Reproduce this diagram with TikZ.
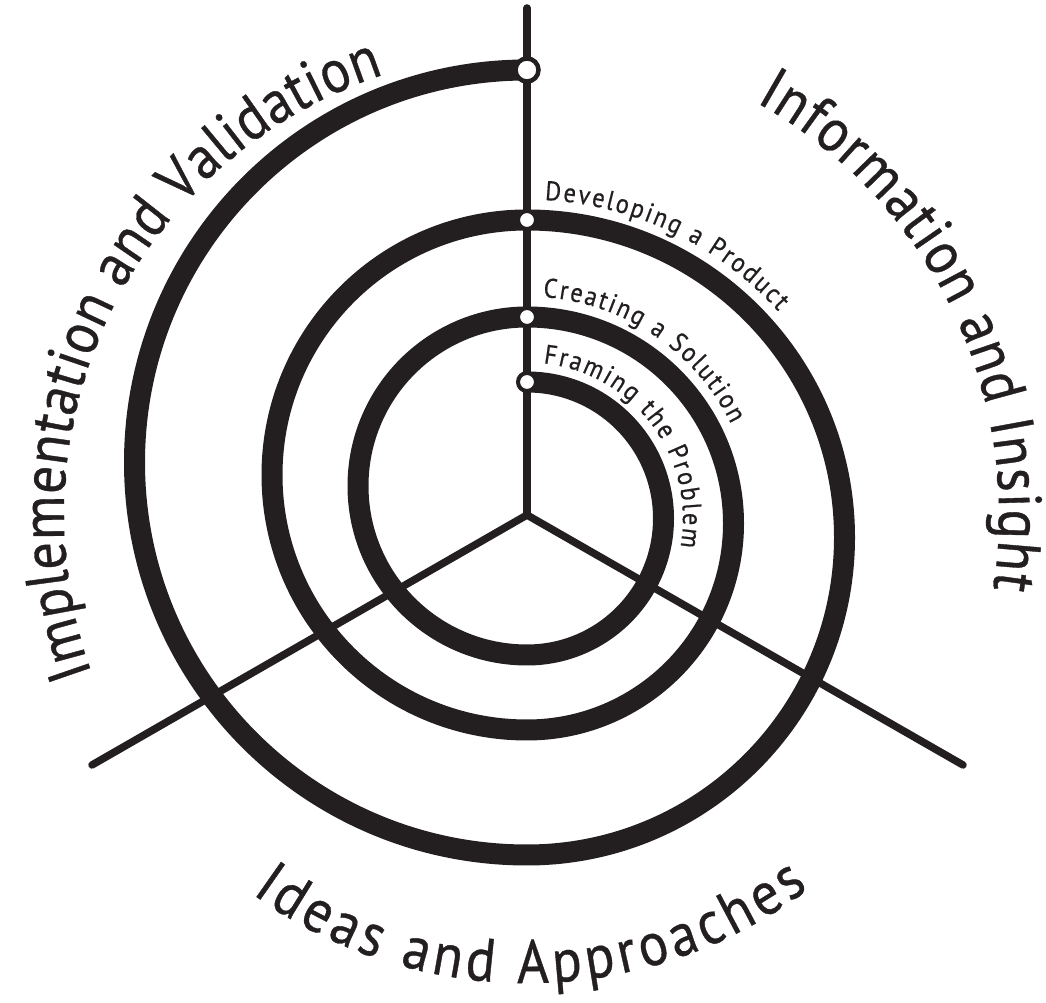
\documentclass[tikz,border=0pt]{standalone}
\usepackage{fontspec}
\setmainfont{PT Sans}[FakeBold=0.6,FakeStretch=0.9]
\usetikzlibrary{decorations.text}
\definecolor{ink}{HTML}{231F20}
\begin{document}
\begin{tikzpicture}[x=1pt,y=1pt,
  spoke/.style={line width=7.5pt, line cap=round, draw=ink},
  spiral/.style={line width=21pt, draw=ink},
  marker/.style={circle, draw=ink, fill=white, line width=4pt, minimum size=18pt, inner sep=0pt},
  bigmarker/.style={marker, minimum size=23pt, line width=4.5pt},
  bigtext/.style={decorate, decoration={text along path, text align={fit to path}, text color=ink, text={|\fontsize{61}{64}\selectfont|#1}}},
  smalltext/.style={decorate, decoration={text along path, text align={fit to path}, text color=ink, text={|\fontsize{27}{30}\selectfont|#1}}}
]
\useasboundingbox (0,0) rectangle (1046,1003);
% centres
\coordinate (O) at (527,488);
\coordinate (top) at (527,995);
\coordinate (ll) at (92,238);
\coordinate (lr) at (963,238);
\coordinate (F1) at (527,484.5);
\coordinate (F2) at (527,479.5);
\coordinate (F3) at (527,465.5);
% spokes
\draw[spoke] (O) -- (top);
\draw[spoke] (O) -- (ll);
\draw[spoke] (O) -- (lr);
% spiral
\draw[spiral] (527,621)
  arc[start angle=90,end angle=-90,radius=136.5]
  arc[start angle=-90,end angle=-270,radius=169]
  arc[start angle=90,end angle=-90,radius=206.5]
  arc[start angle=-90,end angle=-270,radius=255]
  arc[start angle=90,end angle=-90,radius=317.5]
  arc[start angle=-90,end angle=-270,radius=392.5];
% markers
\node[marker] (m1) at (527,621) {};
\node[marker] (m2) at (527,686) {};
\node[marker] (m3) at (527,783) {};
\node[bigmarker] (m4) at (527,933) {};
% small labels
\path[smalltext={Framing the Problem}] ([shift={(84:156)}]F1) arc[start angle=84,end angle=-10.5,radius=156];
\path[smalltext={Creating a Solution}] ([shift={(86:227)}]F2) arc[start angle=86,end angle=26,radius=227];
\path[smalltext={Developing a Product}] ([shift={(87:338)}]F3) arc[start angle=87,end angle=42,radius=338];
% big labels
\path[bigtext={Ideas and Approaches}] ([shift={(234:468)}]O) arc[start angle=234,end angle=307,radius=468];
\path[bigtext={Information and Insight}] ([shift={(61:472)}]O) arc[start angle=61,end angle=-9,radius=472];
\path[bigtext={Implementation and Validation}] ([shift={(200:463)}]O) arc[start angle=200,end angle=108,radius=463];
\end{tikzpicture}
\end{document}
